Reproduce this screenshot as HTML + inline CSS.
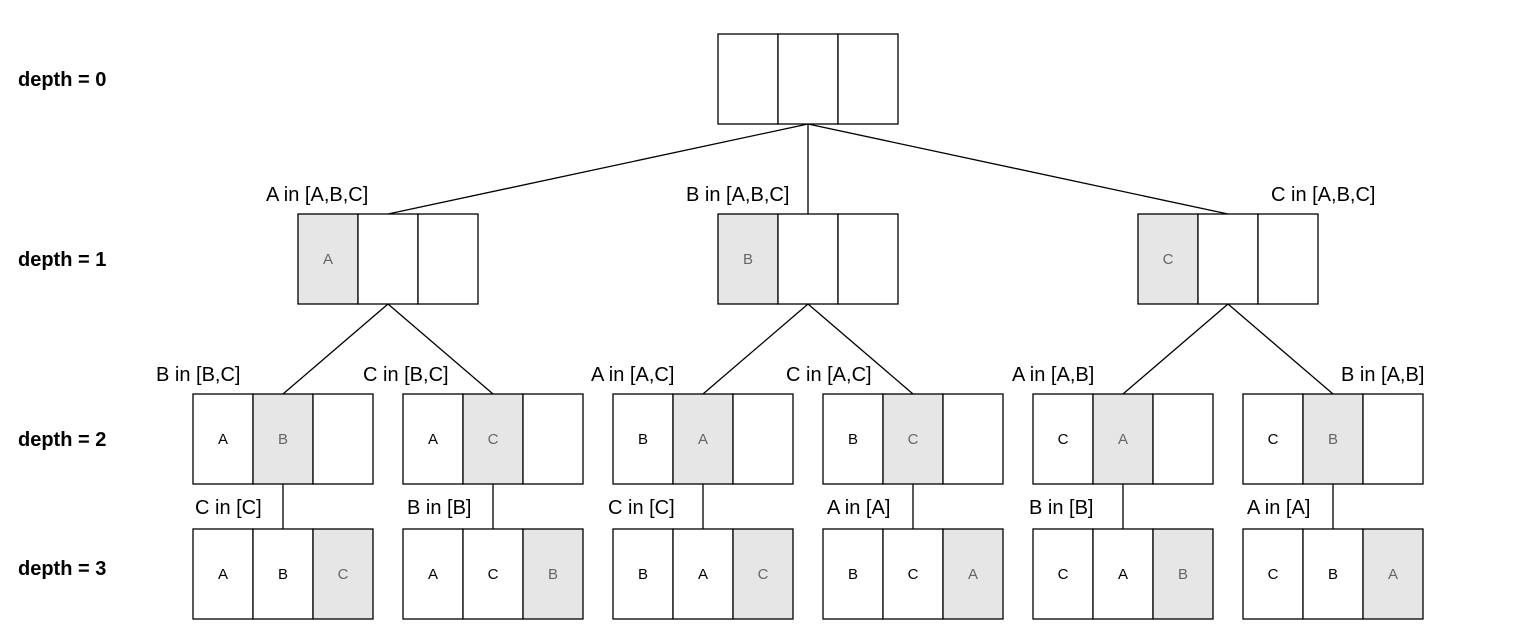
<!DOCTYPE html>
<html><head><style>body{margin:0;background:#fff}</style></head><body>
<svg width="1534" height="638" xmlns="http://www.w3.org/2000/svg" font-family="Liberation Sans, Arial, sans-serif">
<g font-size="20" font-weight="bold" fill="#000">
<text x="18" y="86">depth = 0</text>
<text x="18" y="266">depth = 1</text>
<text x="18" y="446">depth = 2</text>
<text x="18" y="575">depth = 3</text>
</g>
<g stroke="#000" stroke-width="1.3" fill="none">
<line x1="808" y1="124" x2="388" y2="214"/>
<line x1="808" y1="124" x2="808" y2="214"/>
<line x1="808" y1="124" x2="1228" y2="214"/>
<line x1="388" y1="304" x2="283" y2="394"/>
<line x1="388" y1="304" x2="493" y2="394"/>
<line x1="808" y1="304" x2="703" y2="394"/>
<line x1="808" y1="304" x2="913" y2="394"/>
<line x1="1228" y1="304" x2="1123" y2="394"/>
<line x1="1228" y1="304" x2="1333" y2="394"/>
<line x1="283" y1="484" x2="283" y2="529"/>
<line x1="493" y1="484" x2="493" y2="529"/>
<line x1="703" y1="484" x2="703" y2="529"/>
<line x1="913" y1="484" x2="913" y2="529"/>
<line x1="1123" y1="484" x2="1123" y2="529"/>
<line x1="1333" y1="484" x2="1333" y2="529"/>
</g>
<g id="boxes" stroke="#000" stroke-width="1.3" font-size="15" text-anchor="middle">
<rect x="718" y="34" width="60" height="90" fill="#fff"/><rect x="778" y="34" width="60" height="90" fill="#fff"/><rect x="838" y="34" width="60" height="90" fill="#fff"/>
</g>
<script>
const s=document.getElementById('boxes');
const NS='http://www.w3.org/2000/svg';
function box(x,y,cells){cells.forEach((c,i)=>{const r=document.createElementNS(NS,'rect');r.setAttribute('x',x+60*i);r.setAttribute('y',y);r.setAttribute('width',60);r.setAttribute('height',90);r.setAttribute('fill',c[1]?'#e6e6e6':'#fff');s.appendChild(r);if(c[0]){const t=document.createElementNS(NS,'text');t.setAttribute('x',x+60*i+30);t.setAttribute('y',y+50);t.setAttribute('stroke','none');t.setAttribute('fill',c[1]?'#666':'#000');t.textContent=c[0];s.appendChild(t);}});}
box(298,214,[['A',1],['',0],['',0]]);
box(718,214,[['B',1],['',0],['',0]]);
box(1138,214,[['C',1],['',0],['',0]]);
const d2=[[193,'A','B'],[403,'A','C'],[613,'B','A'],[823,'B','C'],[1033,'C','A'],[1243,'C','B']];
d2.forEach(d=>box(d[0],394,[[d[1],0],[d[2],1],['',0]]));
const d3=[[193,'A','B','C'],[403,'A','C','B'],[613,'B','A','C'],[823,'B','C','A'],[1033,'C','A','B'],[1243,'C','B','A']];
d3.forEach(d=>box(d[0],529,[[d[1],0],[d[2],0],[d[3],1]]));
</script>
<g font-size="20" fill="#000">
<text x="266" y="201">A in [A,B,C]</text>
<text x="686" y="201">B in [A,B,C]</text>
<text x="1271" y="201">C in [A,B,C]</text>
<text x="156" y="381">B in [B,C]</text>
<text x="363" y="381">C in [B,C]</text>
<text x="591" y="381">A in [A,C]</text>
<text x="786" y="381">C in [A,C]</text>
<text x="1012" y="381">A in [A,B]</text>
<text x="1341" y="381">B in [A,B]</text>
<text x="195" y="514">C in [C]</text>
<text x="407" y="514">B in [B]</text>
<text x="608" y="514">C in [C]</text>
<text x="827" y="514">A in [A]</text>
<text x="1029" y="514">B in [B]</text>
<text x="1247" y="514">A in [A]</text>
</g>
</svg>
</body></html>
